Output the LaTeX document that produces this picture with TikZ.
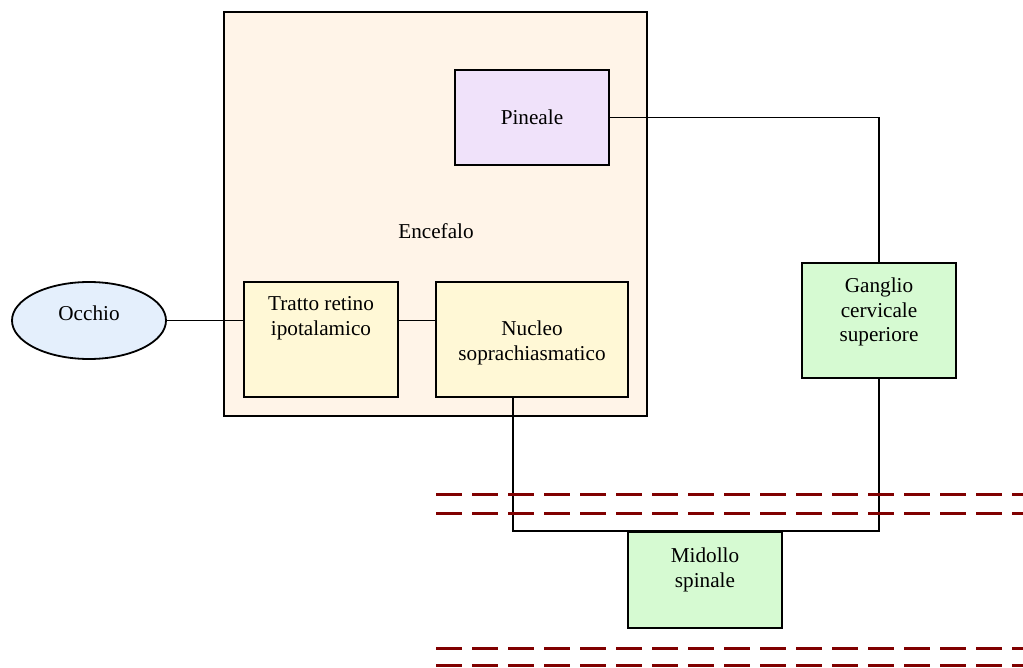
\documentclass[tikz,border=0pt]{standalone}
\usepackage{fontspec}
\setmainfont{Liberation Serif}
\usetikzlibrary{shapes.geometric}
\definecolor{encfill}{RGB}{255,244,232}
\definecolor{pinfill}{RGB}{240,226,250}
\definecolor{eyefill}{RGB}{228,239,252}
\definecolor{yelfill}{RGB}{255,248,214}
\definecolor{grnfill}{RGB}{214,250,210}
\definecolor{dashred}{RGB}{128,0,0}
\begin{document}
\begin{tikzpicture}[x=1pt,y=-1pt,
  box/.style={draw=black,line width=1.8pt,rectangle,inner sep=0pt},
  txt/.style={align=center,inner sep=0pt,font=\fontsize{21.2}{24.8}\selectfont},
  wire/.style={draw=black,line width=1.6pt},
  sep/.style={draw=dashred,line width=3pt,dash pattern=on 26pt off 10pt}]
\useasboundingbox (0,0) rectangle (1023,668);
\fill[white] (0,0) rectangle (1023,668);
% boxes
\node[box,fill=encfill,minimum width=423pt,minimum height=404pt] (enc) at (435.5,214) {};
\node[box,fill=pinfill,minimum width=154pt,minimum height=95pt] (pin) at (532,117.5) {};
\node[box,fill=yelfill,minimum width=154pt,minimum height=115pt] (tratto) at (321,339.5) {};
\node[box,fill=yelfill,minimum width=192pt,minimum height=115pt] (nucleo) at (532,339.5) {};
\node[box,fill=grnfill,minimum width=154pt,minimum height=115pt] (gang) at (879,320.5) {};
\node[box,fill=grnfill,minimum width=154pt,minimum height=96pt] (mid) at (705,580) {};
\node[draw=black,line width=1.8pt,ellipse,fill=eyefill,minimum width=154pt,minimum height=77pt,inner sep=0pt] (occhio) at (89,320.5) {};
% texts
\node[txt] (encT) at (436,231) {Encefalo};
\node[txt] (pinT) at (532,117) {Pineale};
\node[txt] (trattoT) at (321,318) {Tratto retino\\ipotalamico};
\node[txt] (nucleoT) at (532,343) {Nucleo\\soprachiasmatico};
\node[txt] (gangT) at (879,312) {Ganglio\\cervicale\\superiore};
\node[txt] (midT) at (705,569.5) {Midollo\\spinale};
\node[txt] (occhioT) at (89,313) {Occhio};
% connectors
\coordinate (nb) at (513,397);
\draw[wire] (occhio.east) -- (occhio.east -| tratto.west);
\draw[wire] (tratto.east |- occhio.east) -- (nucleo.west |- occhio.east);
\draw[wire] (pin.east) -| (gang.north);
\draw[wire] (gang.south) |- (nb |- mid.north) -- (nb);
% dashed separators
\draw[sep] (436,494) -- (1023,494);
\draw[sep] (436,513) -- (1023,513);
\draw[sep] (436,648) -- (1023,648);
\draw[sep] (436,665) -- (1023,665);
\end{tikzpicture}
\end{document}
